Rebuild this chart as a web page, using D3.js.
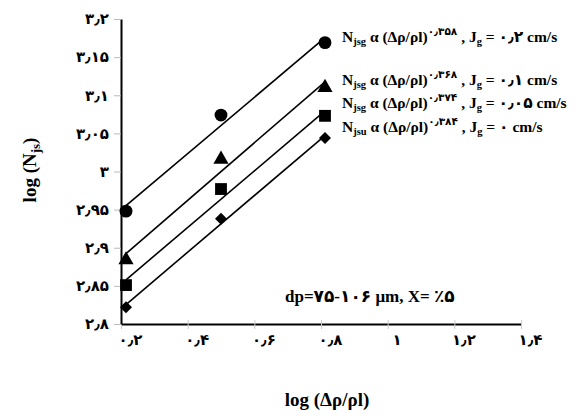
<!DOCTYPE html>
<html><head><meta charset="utf-8">
<script src="https://cdn.jsdelivr.net/npm/d3@7"></script>
<style>
body{margin:0;background:#fff;}
text{font-family:"Liberation Serif","DejaVu Sans",serif;font-weight:bold;fill:#000;}
.fa{direction:ltr;unicode-bidi:bidi-override;}
</style></head>
<body><svg id="c" width="579" height="416"></svg>
<script>
// ---- data ----
const xValues = [0.215, 0.5, 0.812];
const seriesCircle = [2.948, 3.074, 3.169];   // Jg = 0.2
const seriesTriangle = [2.884, 3.016, 3.110]; // Jg = 0.1
const seriesSquare = [2.851, 2.977, 3.073];    // Jg = 0.05
const seriesDiamond = [2.822, 2.938, 3.044];   // Jg = 0
const seriesShapes = ["circle", "triangle", "square", "diamond"];
const legendSub = ["jsg", "jsg", "jsg", "jsu"];
const legendExp = ["۰٫۳۵۸", "۰٫۳۶۸", "۰٫۳۷۴", "۰٫۳۸۴"];
const legendJg = ["۰٫۲", "۰٫۱", "۰٫۰۵", "۰"];
const yTicks = [2.8, 2.85, 2.9, 2.95, 3, 3.05, 3.1, 3.15, 3.2];
const yTickLabels = ["۲٫۸","۲٫۸۵","۲٫۹","۲٫۹۵","۳","۳٫۰۵","۳٫۱","۳٫۱۵","۳٫۲"];
const xTicks = [0.2, 0.4, 0.6, 0.8, 1, 1.2, 1.4];
const xTickLabels = ["۰٫۲","۰٫۴","۰٫۶","۰٫۸","۱","۱٫۲","۱٫۴"];

const svg = d3.select("#c");
const x = d3.scaleLinear().domain([0.2, 1.4]).range([121, 521]);
const y = d3.scaleLinear().domain([2.8, 3.2]).range([324, 19]);

const allSeries = [seriesCircle, seriesTriangle, seriesSquare, seriesDiamond];

// axes
const xAxis = svg.append("g").attr("transform", `translate(0,${y(2.8)})`)
  .call(d3.axisBottom(x).tickValues(xTicks).tickSize(5).tickSizeOuter(0).tickFormat((d,i)=>xTickLabels[i]));
xAxis.select(".domain").attr("stroke","#000").attr("stroke-width",2.2);
xAxis.selectAll(".tick line").attr("stroke","#ccc").attr("y1",-4).attr("y2",5);
xAxis.selectAll(".tick text").attr("class","fa").attr("font-size",15).attr("dx",9).attr("dy",13);

const yAxis = svg.append("g").attr("transform", `translate(${x(0.2)},0)`)
  .call(d3.axisLeft(y).tickValues(yTicks).tickSize(7).tickSizeOuter(0).tickFormat((d,i)=>yTickLabels[i]));
yAxis.select(".domain").attr("stroke","#000").attr("stroke-width",2);
yAxis.selectAll(".tick line").attr("stroke","#bbb");
yAxis.selectAll(".tick text").attr("class","fa").attr("font-size",15).attr("dx",-2);

// fit lines (least squares)
allSeries.forEach(s=>{
  const mx = d3.mean(xValues), my = d3.mean(s);
  let sxy=0, sxx=0;
  xValues.forEach((xv,i)=>{sxy+=(xv-mx)*(s[i]-my); sxx+=(xv-mx)*(xv-mx);});
  const b = sxy/sxx, a = my-b*mx;
  const x0 = xValues[0], x1 = xValues[xValues.length-1];
  svg.append("line").attr("x1",x(x0)).attr("y1",y(a+b*x0)).attr("x2",x(x1)).attr("y2",y(a+b*x1))
    .attr("stroke","#000").attr("stroke-width",1.6);
});

// markers
const sym = {circle:d3.symbolCircle, triangle:d3.symbolTriangle, square:d3.symbolSquare, diamond:d3.symbolSquare};
const sizes = {circle:130, triangle:100, square:140, diamond:72};
const rot = {circle:0, triangle:0, square:0, diamond:45};
allSeries.forEach((s,si)=>{
  const shp = seriesShapes[si];
  svg.append("g").selectAll("path").data(s).join("path")
    .attr("transform",(d,i)=>`translate(${x(xValues[i])},${y(d)}) rotate(${rot[shp]})`)
    .attr("d", d3.symbol().type(sym[shp]).size(sizes[shp]))
    .attr("fill","#000");
});

// legend labels
const legY = [42, 85, 108, 132];
legendSub.forEach((sub,i)=>{
  const t = svg.append("text").attr("class","fa").attr("x",342).attr("y",legY[i]).attr("font-size",15.5);
  t.append("tspan").text("N");
  t.append("tspan").attr("font-size",10.5).attr("dy",3).text(sub);
  t.append("tspan").attr("dy",-3).text(" α (Δρ/ρl)");
  t.append("tspan").attr("font-size",10.5).attr("dy",-7).text(legendExp[i]);
  t.append("tspan").attr("dy",7).text(" , J");
  t.append("tspan").attr("font-size",10.5).attr("dy",3).text("g");
  t.append("tspan").attr("dy",-3).text(" = " + legendJg[i] + " cm/s");
});

// annotation
svg.append("text").attr("class","fa").attr("x",285).attr("y",302).attr("font-size",17)
  .text("dp=۷۵-۱۰۶ μm, X= ٪۵");

// axis titles
const yt = svg.append("text").attr("transform","translate(36,170) rotate(-90)").attr("text-anchor","middle").attr("font-size",19);
yt.append("tspan").text("log (N");
yt.append("tspan").attr("font-size",13).attr("dy",4).text("js");
yt.append("tspan").attr("dy",-4).text(")");

svg.append("text").attr("x",327).attr("y",406).attr("text-anchor","middle").attr("font-size",19)
  .text("log (Δρ/ρl)");
</script></body></html>
